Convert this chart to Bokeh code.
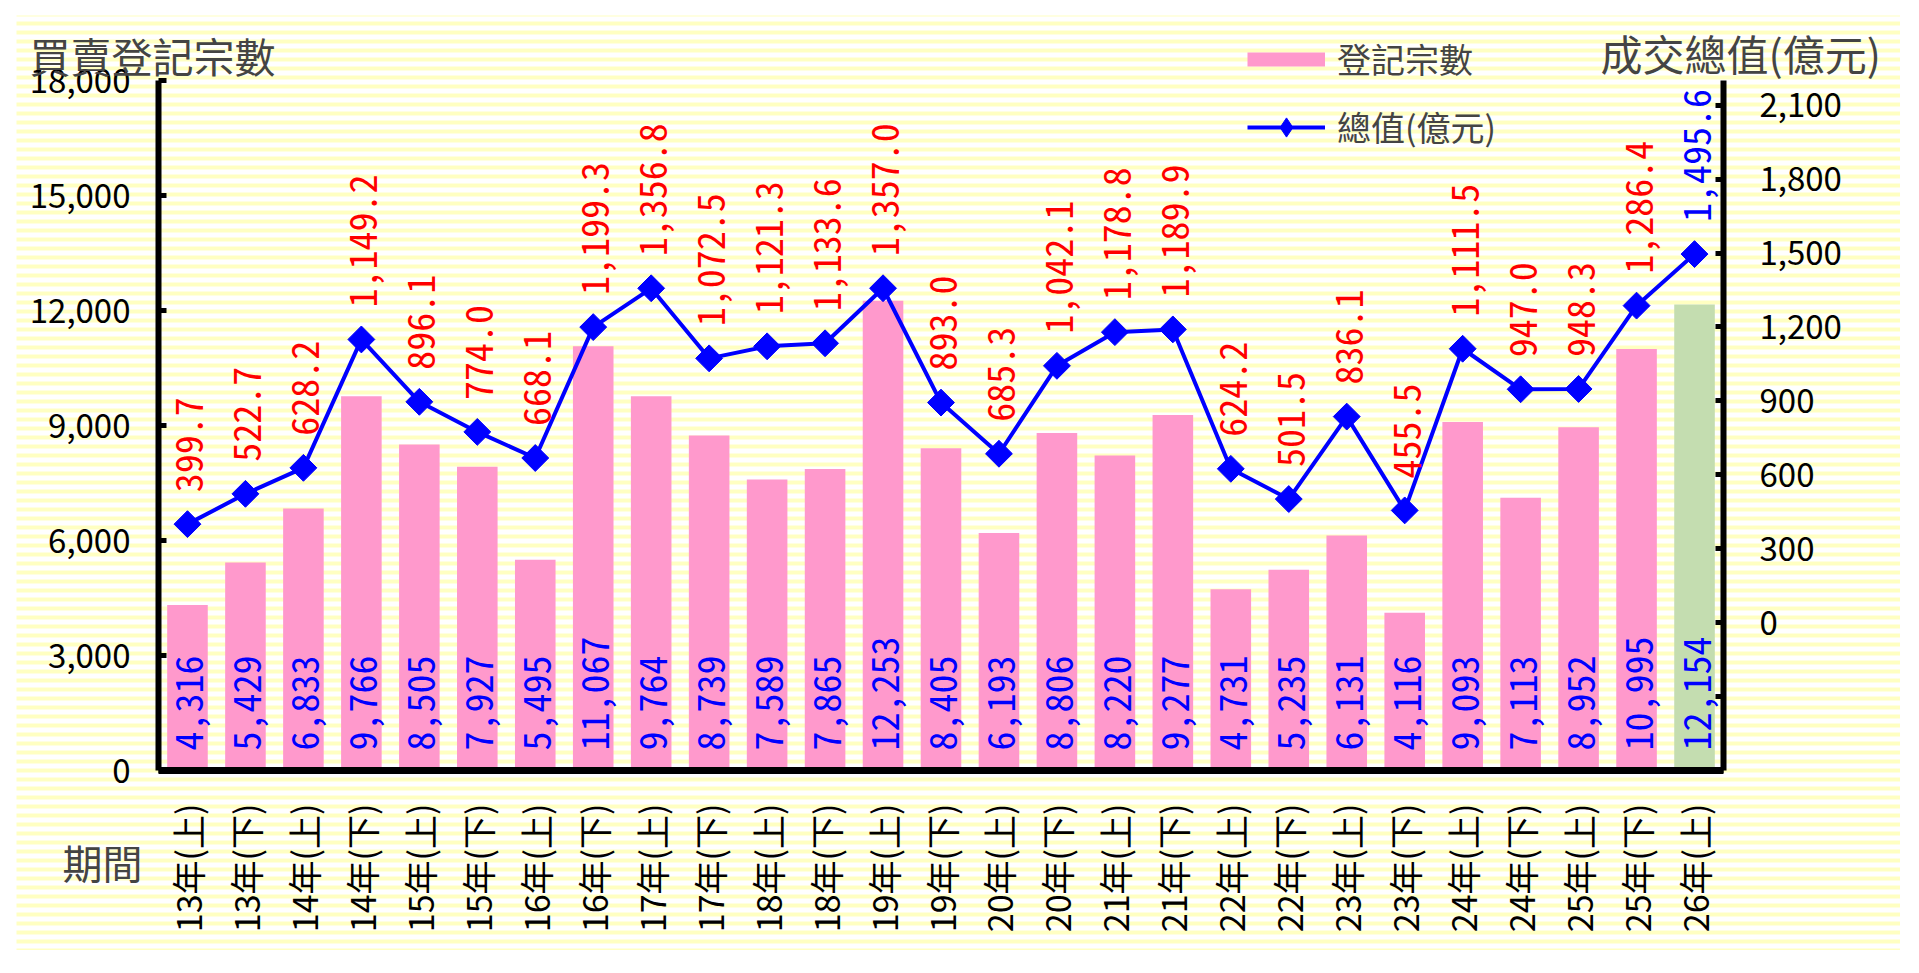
from math import pi

from bokeh.core.properties import value
from bokeh.embed import file_html
from bokeh.models import (BoxAnnotation, ColumnDataSource, FixedTicker, Label,
                          Legend, LegendItem, LinearAxis, NumeralTickFormatter,
                          Range1d)
from bokeh.plotting import figure
from bokeh.resources import INLINE

# ---- data ----
periods = ["13年(上)", "13年(下)", "14年(上)", "14年(下)", "15年(上)", "15年(下)",
           "16年(上)", "16年(下)", "17年(上)", "17年(下)", "18年(上)", "18年(下)",
           "19年(上)", "19年(下)", "20年(上)", "20年(下)", "21年(上)", "21年(下)",
           "22年(上)", "22年(下)", "23年(上)", "23年(下)", "24年(上)", "24年(下)",
           "25年(上)", "25年(下)", "26年(上)"]
counts = [4316, 5429, 6833, 9766, 8505, 7927, 5495, 11067, 9764, 8739, 7589, 7865,
          12253, 8405, 6193, 8806, 8220, 9277, 4731, 5235, 6131, 4116, 9093, 7113,
          8952, 10995, 12154]
totals = [399.7, 522.7, 628.2, 1149.2, 896.1, 774.0, 668.1, 1199.3, 1356.8, 1072.5,
          1121.3, 1133.6, 1357.0, 893.0, 685.3, 1042.1, 1178.8, 1189.9, 624.2, 501.5,
          836.1, 455.5, 1111.5, 947.0, 948.3, 1286.4, 1495.6]
count_ticks = [0, 3000, 6000, 9000, 12000, 15000, 18000]
total_ticks = [-600, -300, 0, 300, 600, 900, 1200, 1500, 1800, 2100]
count_span = (0, 18000)
total_span = (-600, 2200)

# ---- layout (canvas pixels) ----
W, H = 1900, 950
CARD_L, CARD_T = 16, 15                       # white rim round the striped card
AX_L, AX_R, AX_T, AX_B = 158, 1723, 80, 770   # where the axes sit

CJK = "Noto Sans CJK TC"
MONO = "Noto Sans Mono CJK TC, Noto Sans Mono CJK JP, DejaVu Sans Mono"
PINK, GREEN, BLUE, RED = "#FF99CC", "#C4DDB0", "#0000FF", "#FF0000"

n = len(periods)
idx = list(range(n))
source = ColumnDataSource(dict(
    x=idx,
    count=counts,
    total=totals,
    count_label=[f"{c:,}" for c in counts],
    total_label=[f"{t:,.1f}" for t in totals],
    bar_color=[PINK] * (n - 1) + [GREEN],
    total_color=[RED] * (n - 1) + [BLUE],
))

# ranges chosen so the frame fills the whole canvas and the axes land at AX_*
cw = (AX_R - AX_L) / n
x_range = Range1d(-0.5 - AX_L / cw, -0.5 + (W - AX_L) / cw)
k1 = (count_span[1] - count_span[0]) / (AX_B - AX_T)
k2 = (total_span[1] - total_span[0]) / (AX_B - AX_T)
y_range = Range1d(count_span[0] - (H - AX_B) * k1, count_span[1] + AX_T * k1)
y_right = Range1d(total_span[0] - (H - AX_B) * k2, total_span[1] + AX_T * k2)

p = figure(x_range=x_range, y_range=y_range, width=W, height=H,
           min_border=0, output_backend="svg", toolbar_location=None)
p.title.visible = False
p.extra_y_ranges = {"total": y_right}
p.background_fill_color = "white"
p.border_fill_color = "white"
p.outline_line_color = None
p.grid.visible = False

# striped pale-yellow card
p.add_layout(BoxAnnotation(left=CARD_L, right=W, bottom=0, top=H - CARD_T,
                           left_units="screen", right_units="screen",
                           top_units="screen", bottom_units="screen",
                           fill_color="white", fill_alpha=1, line_color=None,
                           hatch_pattern="horizontal_line", hatch_color="#FFFFC2",
                           hatch_weight=4, hatch_scale=9, level="image"))

# bars + line
p.vbar(x="x", top="count", width=0.7, source=source,
       fill_color="bar_color", line_color=None)
line_r = p.line(x="x", y="total", source=source, y_range_name="total",
                line_color=BLUE, line_width=4)
p.scatter(x="x", y="total", source=source, y_range_name="total",
          marker="square", angle=pi / 4, size=19, fill_color=BLUE, line_color=BLUE)

# value labels
p.text(x="x", y=0, text="count_label", source=source, angle=pi / 2,
       text_align="left", text_baseline="middle", x_offset=2, y_offset=-20,
       text_color=BLUE, text_font=value(MONO), text_font_size="38px")
p.text(x="x", y="total", text="total_label", source=source, y_range_name="total",
       angle=pi / 2, text_align="left", text_baseline="middle", x_offset=2, y_offset=-32,
       text_color="total_color", text_font=value(MONO), text_font_size="38px")

# axes, pinned at the plot-area edges
yl = p.yaxis[0]
yl.fixed_location = -0.5
yl.bounds = count_span
yl.ticker = FixedTicker(ticks=count_ticks)
yl.formatter = NumeralTickFormatter(format="0,0")
yl.major_label_standoff = 28

yr = LinearAxis(y_range_name="total", fixed_location=n - 0.5, bounds=total_span,
                ticker=FixedTicker(ticks=total_ticks),
                formatter=NumeralTickFormatter(format="0,0"),
                major_label_overrides={-600: "", -300: ""})
yr.major_label_standoff = 36
p.add_layout(yr, "right")

for ax in (yl, yr):
    ax.axis_line_width = 6
    ax.axis_line_color = "black"
    ax.major_tick_in = 8
    ax.major_tick_out = 0
    ax.major_tick_line_width = 5
    ax.minor_tick_line_color = None
    ax.major_label_text_font = CJK
    ax.major_label_text_font_size = "33px"
    ax.major_label_text_color = "black"

xa = p.xaxis[0]
xa.fixed_location = 0
xa.bounds = (-0.5, n - 0.5)
xa.ticker = FixedTicker(ticks=idx)
xa.major_label_overrides = {i: lab for i, lab in zip(idx, periods)}
xa.major_label_orientation = pi / 2
xa.major_tick_line_color = None
xa.minor_tick_line_color = None
xa.axis_line_width = 7
xa.axis_line_color = "black"
xa.major_label_standoff = 27
xa.major_label_text_font = CJK
xa.major_label_text_font_size = "34px"
xa.major_label_text_color = "black"

# legend keys: one-point NaN renderers, so only the legend draws them
nan = float("nan")
bar_key = p.line(x=[nan], y=[nan], line_color=PINK, line_width=14)
dot_key = p.scatter(x=[nan], y=[nan], marker="diamond", fill_color=BLUE, line_color=BLUE)
legend = Legend(items=[LegendItem(label="登記宗數", renderers=[bar_key]),
                       LegendItem(label="總值(億元)", renderers=[line_r, dot_key])],
                location=(1247, H - 151), glyph_width=78, glyph_height=48,
                label_height=48, label_standoff=12, spacing=19, padding=0, margin=0,
                border_line_color=None, background_fill_alpha=0,
                label_text_font=CJK, label_text_font_size="34px")
p.add_layout(legend)

# titles
p.add_layout(Label(x=29, y=H - 54, x_units="screen", y_units="screen", text="買賣登記宗數",
                   text_font=CJK, text_font_size="41px", text_baseline="middle"))
p.add_layout(Label(x=1600, y=H - 52, x_units="screen", y_units="screen", text="成交總值(億元)",
                   text_font=CJK, text_font_size="42px", text_baseline="middle"))
p.add_layout(Label(x=62, y=H - 861, x_units="screen", y_units="screen", text="期間",
                   text_font=CJK, text_font_size="40px", text_baseline="middle"))

open("out.html", "w").write(file_html(p, INLINE))
